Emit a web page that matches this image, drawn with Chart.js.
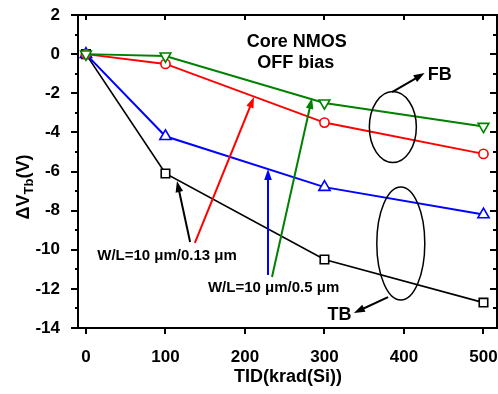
<!DOCTYPE html>
<html>
<head>
<meta charset="utf-8">
<script src="https://cdn.jsdelivr.net/npm/chart.js@4"></script>
<style>
  html, body { margin: 0; padding: 0; background: #fff; }
  #wrap { width: 498px; height: 394px; }
</style>
</head>
<body>
<div id="wrap"><canvas id="c"></canvas></div>
<script>
// data
var tid = [0, 100, 300, 500];
var tb013 = [0, -6.1, -10.5, -12.7];   // black squares
var tb05 = [0, -4.2, -6.8, -8.2];      // blue up-triangles
var fb013 = [0, -0.5, -3.5, -5.1];     // red circles
var fb05 = [0, -0.1, -2.5, -3.7];      // green down-triangles
var xTicks = [0, 100, 200, 300, 400, 500];
var yTicks = [2, 0, -2, -4, -6, -8, -10, -12, -14];

var FONT = '"Liberation Sans", Arial, sans-serif';

var pts = (ys) => tid.map((x, i) => ({ x: x, y: ys[i] }));

var series = function (label, ys, color, style, rot, radius, width, order) {
  return {
    label: label,
    data: pts(ys),
    order: order,
    borderColor: color,
    backgroundColor: '#fff',
    borderWidth: width,
    pointStyle: style,
    rotation: rot,
    pointRadius: radius,
    pointBorderWidth: 1.6,
    pointBackgroundColor: '#fff',
    pointBorderColor: color,
    showLine: true,
    tension: 0
  };
};

// annotations, anchored in data units
var notes = [
  { text: 'Core NMOS', x: 265, y: 0.62, size: 18 },
  { text: 'OFF bias', x: 264, y: -0.45, size: 18 },
  { text: 'FB', x: 445, y: -1.07, size: 18 },
  { text: 'TB', x: 319, y: -13.34, size: 18 },
  { text: 'W/L=10 \u03bcm/0.13 \u03bcm', x: 102, y: -10.32, size: 15 },
  { text: 'W/L=10 \u03bcm/0.5 \u03bcm', x: 236, y: -11.96, size: 15 }
];
var ellipses = [
  { x: 386, y: -3.73, rx: 23.5, ry: 35.5 },
  { x: 396, y: -9.68, rx: 24, ry: 56.5 }
];
var arrows = [
  { x0: 385, y0: -1.94, x1: 426, y1: -0.97, color: '#000' },
  { x0: 380, y0: -12.42, x1: 337, y1: -13.23, color: '#000' },
  { x0: 131, y0: -9.6, x1: 114.5, y1: -6.49, color: '#000' },
  { x0: 137, y0: -9.65, x1: 211.4, y1: -2.19, color: '#ff0000' },
  { x0: 229, y0: -11.29, x1: 229, y1: -5.87, color: '#0000ff' },
  { x0: 234, y0: -11.39, x1: 284.3, y1: -2.24, color: '#008000' }
];

var decor = {
  id: 'decor',
  afterDraw: function (chart) {
    var ctx = chart.ctx, a = chart.chartArea;
    var xs = chart.scales.x, ys = chart.scales.y;
    ctx.save();
    ctx.strokeStyle = '#000';
    ctx.lineWidth = 2;
    ctx.strokeRect(a.left, a.top, a.right - a.left, a.bottom - a.top);

    // ticks
    ctx.lineWidth = 2;
    ctx.beginPath();
    xTicks.forEach(function (v) {
      var px = Math.round(xs.getPixelForValue(v));
      ctx.moveTo(px, a.bottom); ctx.lineTo(px, a.bottom + 6);
      ctx.moveTo(px, a.top); ctx.lineTo(px, a.top + 5);
    });
    for (var v = -14; v <= 2; v++) {
      var py = Math.round(ys.getPixelForValue(v));
      var major = (v % 2 === 0);
      ctx.moveTo(a.left, py); ctx.lineTo(a.left - (major ? 7 : 3), py);
      ctx.moveTo(a.right, py); ctx.lineTo(a.right - (major ? 7 : 4), py);
    }
    ctx.stroke();

    // axis titles
    ctx.fillStyle = '#000';
    ctx.textAlign = 'center';
    ctx.textBaseline = 'middle';
    ctx.font = 'bold 18px ' + FONT;
    ctx.fillText('TID(krad(Si))', 288, 377);

    ctx.save();
    ctx.translate(29, 187);
    ctx.rotate(-Math.PI / 2);
    ctx.textBaseline = 'alphabetic';
    ctx.textAlign = 'left';
    var big = 'bold 18px ' + FONT, small = 'bold 13px ' + FONT;
    ctx.font = big;
    var w1 = ctx.measureText('\u0394V').width;
    var w3 = ctx.measureText('(V)').width;
    ctx.font = small;
    var w2 = ctx.measureText('Tb').width;
    var x0 = -(w1 + w2 + w3) / 2;
    ctx.font = big; ctx.fillText('\u0394V', x0, 0);
    ctx.font = small; ctx.fillText('Tb', x0 + w1, 4);
    ctx.font = big; ctx.fillText('(V)', x0 + w1 + w2, 0);
    ctx.restore();

    // text notes
    notes.forEach(function (n) {
      ctx.font = 'bold ' + n.size + 'px ' + FONT;
      ctx.fillText(n.text, xs.getPixelForValue(n.x), ys.getPixelForValue(n.y));
    });

    // ellipses
    ctx.lineWidth = 1.5;
    ellipses.forEach(function (e) {
      ctx.beginPath();
      ctx.ellipse(xs.getPixelForValue(e.x), ys.getPixelForValue(e.y), e.rx, e.ry, 0, 0, Math.PI * 2);
      ctx.stroke();
    });

    // arrows
    arrows.forEach(function (r) {
      var x0 = xs.getPixelForValue(r.x0), y0 = ys.getPixelForValue(r.y0);
      var x1 = xs.getPixelForValue(r.x1), y1 = ys.getPixelForValue(r.y1);
      var ang = Math.atan2(y1 - y0, x1 - x0);
      var len = 11, hw = 3.8;
      ctx.strokeStyle = r.color;
      ctx.fillStyle = r.color;
      ctx.lineWidth = 2;
      ctx.beginPath();
      ctx.moveTo(x0, y0);
      ctx.lineTo(x1 - Math.cos(ang) * len * 0.8, y1 - Math.sin(ang) * len * 0.8);
      ctx.stroke();
      ctx.beginPath();
      ctx.moveTo(x1, y1);
      ctx.lineTo(x1 - Math.cos(ang) * len - Math.sin(ang) * hw, y1 - Math.sin(ang) * len + Math.cos(ang) * hw);
      ctx.lineTo(x1 - Math.cos(ang) * len + Math.sin(ang) * hw, y1 - Math.sin(ang) * len - Math.cos(ang) * hw);
      ctx.closePath();
      ctx.fill();
    });
    ctx.restore();
  }
};

new Chart(document.getElementById('c'), {
  type: 'scatter',
  data: {
    datasets: [
      series('TB 0.13', tb013, '#000000', 'rect', 0, 6, 1.7, 3),
      series('TB 0.5', tb05, '#0000ff', 'triangle', 0, 6.5, 2, 2),
      series('FB 0.13', fb013, '#ff0000', 'circle', 0, 4.6, 2, 1),
      series('FB 0.5', fb05, '#008000', 'triangle', 180, 6.2, 2, 0)
    ]
  },
  options: {
    responsive: true,
    maintainAspectRatio: false,
    animation: false,
    layout: { autoPadding: false, padding: { top: 15, right: 1, left: 0, bottom: 0 } },
    plugins: {
      legend: { display: false },
      tooltip: { enabled: false }
    },
    scales: {
      x: {
        type: 'linear',
        position: 'bottom',
        min: -10,
        max: 517,
        afterBuildTicks: s => { s.ticks = xTicks.map(v => ({ value: v })); },
        afterFit: s => { s.height = 66; s.paddingLeft = 0; s.paddingRight = 0; },
        grid: { display: false },
        border: { display: false },
        ticks: {
          color: '#000',
          padding: 11,
          maxRotation: 0,
          font: { family: FONT, size: 17, weight: 'bold' }
        }
      },
      y: {
        type: 'linear',
        min: -14,
        max: 2,
        afterBuildTicks: s => { s.ticks = yTicks.map(v => ({ value: v })); },
        afterFit: s => { s.width = 78; s.paddingTop = 0; s.paddingBottom = 0; },
        grid: { display: false },
        border: { display: false },
        ticks: {
          color: '#000',
          padding: 10,
          font: { family: FONT, size: 17, weight: 'bold' }
        }
      }
    }
  },
  plugins: [decor]
});
</script>
</body>
</html>
